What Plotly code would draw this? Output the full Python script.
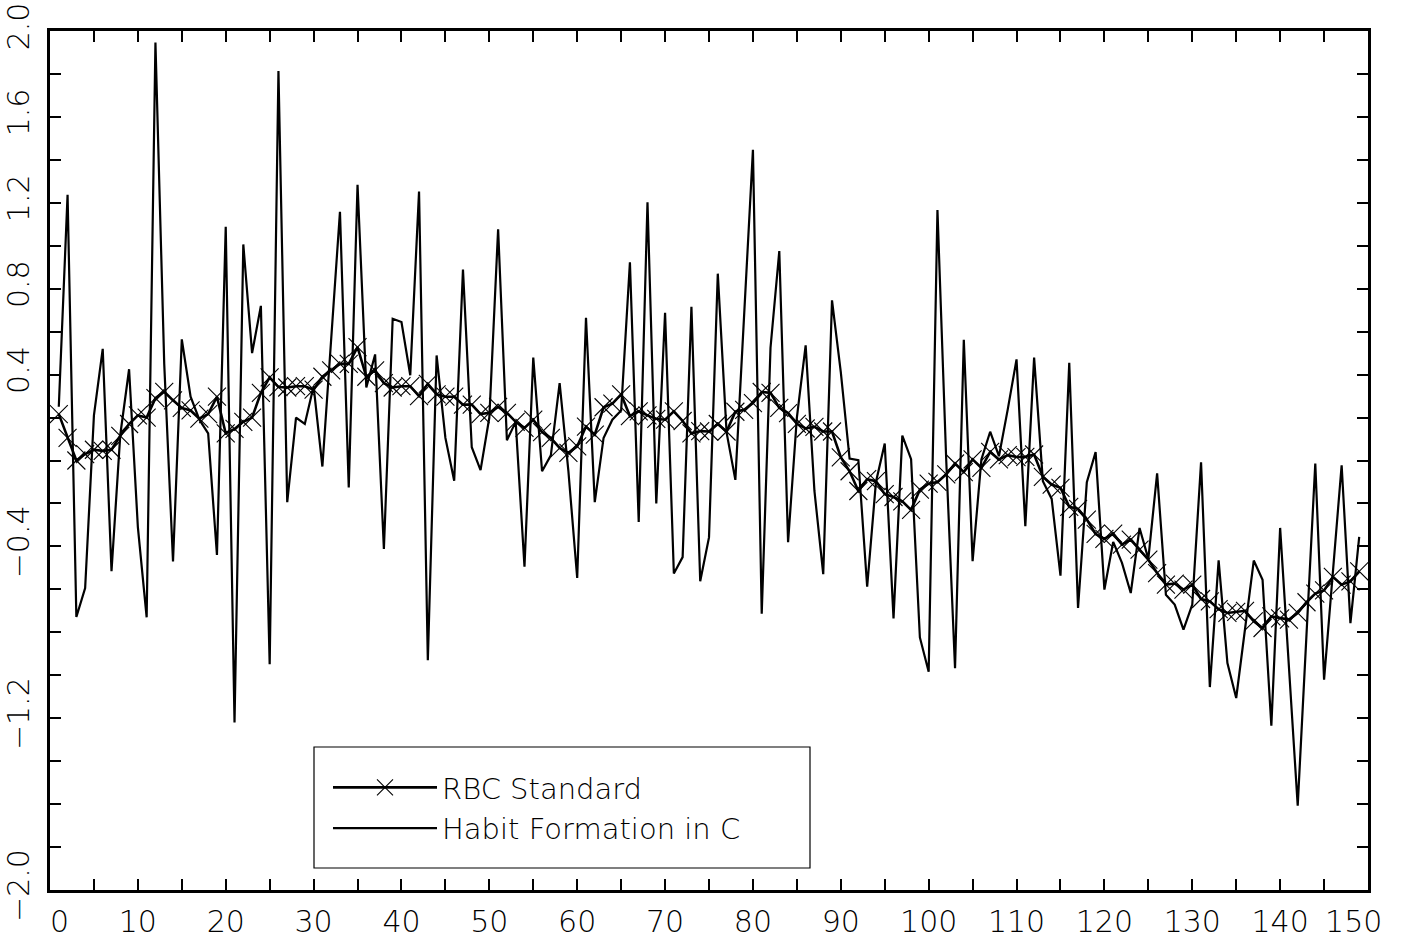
import plotly.graph_objects as go

# periods
periods = list(range(1, 150))

# RBC Standard (line with x markers)
rbc_standard = [
    0.216, 0.105, 0.000, 0.030, 0.050, 0.045, 0.050, 0.115, 0.170, 0.210,
    0.200, 0.290, 0.320, 0.280, 0.245, 0.233, 0.195, 0.216, 0.297, 0.126,
    0.147, 0.180, 0.200, 0.315, 0.387, 0.342, 0.340, 0.346, 0.346, 0.330,
    0.390, 0.420, 0.450, 0.450, 0.528, 0.390, 0.420, 0.360, 0.340, 0.346,
    0.346, 0.300, 0.357, 0.308, 0.297, 0.297, 0.260, 0.260, 0.216, 0.222,
    0.250, 0.222, 0.180, 0.152, 0.190, 0.132, 0.105, 0.058, 0.036, 0.066,
    0.158, 0.120, 0.248, 0.265, 0.308, 0.207, 0.229, 0.210, 0.194, 0.190,
    0.229, 0.184, 0.126, 0.137, 0.135, 0.170, 0.135, 0.227, 0.236, 0.267,
    0.319, 0.315, 0.245, 0.221, 0.171, 0.149, 0.157, 0.135, 0.135, 0.015,
    -0.050, -0.142, -0.087, -0.096, -0.157, -0.170, -0.190, -0.230, -0.136, -0.108,
    -0.100, -0.065, -0.014, -0.054, 0.005, -0.034, 0.040, 0.005, 0.025, 0.016,
    0.017, 0.028, -0.076, -0.112, -0.127, -0.216, -0.225, -0.275, -0.342, -0.365,
    -0.340, -0.392, -0.368, -0.415, -0.462, -0.524, -0.578, -0.573, -0.601, -0.578,
    -0.645, -0.656, -0.692, -0.710, -0.705, -0.700, -0.749, -0.780, -0.726, -0.735,
    -0.741, -0.710, -0.660, -0.620, -0.605, -0.542, -0.578, -0.563, -0.516,
]

# Habit Formation in C (plain line)
habit_formation = [
    0.250, 1.237, -0.729, -0.594, 0.210, 0.520, -0.515, 0.120, 0.425, -0.310,
    -0.730, 1.946, 0.450, -0.470, 0.564, 0.297, 0.190, 0.126, -0.440, 1.088,
    -1.220, 1.006, 0.500, 0.720, -0.949, 1.814, -0.194, 0.200, 0.170, 0.346,
    -0.028, 0.550, 1.158, -0.126, 1.284, 0.340, 0.494, -0.412, 0.660, 0.645,
    0.397, 1.252, -0.930, 0.489, 0.105, -0.094, 0.889, 0.062, -0.045, 0.200,
    1.077, 0.094, 0.180, -0.494, 0.479, -0.050, 0.024, 0.360, -0.050, -0.547,
    0.665, -0.194, 0.105, 0.190, 0.233, 0.923, -0.286, 1.203, -0.200, 0.688,
    -0.526, -0.450, 0.716, -0.562, -0.358, 0.870, 0.131, -0.090, 0.680, 1.447,
    -0.713, 0.525, 0.975, -0.380, 0.200, 0.536, -0.142, -0.529, 0.746, 0.411,
    0.009, 0.002, -0.588, -0.100, 0.079, -0.735, 0.116, 0.006, -0.824, -0.984,
    1.166, 0.000, -0.967, 0.562, -0.469, 0.005, 0.134, 0.020, 0.238, 0.471,
    -0.306, 0.479, -0.096, -0.179, -0.536, 0.455, -0.687, -0.101, 0.039, -0.601,
    -0.379, -0.477, -0.617, -0.314, -0.458, -0.060, -0.625, -0.671, -0.788, -0.671,
    -0.008, -1.055, -0.465, -0.943, -1.106, -0.786, -0.466, -0.555, -1.235, -0.314,
    -0.948, -1.607, -0.811, -0.014, -1.021, -0.530, -0.022, -0.757, -0.356,
]

# axis ticks
x_tick_vals = list(range(0, 151, 5))
x_tick_text = [str(v) if v % 10 == 0 else "" for v in x_tick_vals]
# end labels sit just inside the frame, as in the original
x_tick_text[0] = "\u00a0\u00a00"
x_tick_text[-1] = "150\u00a0\u00a0\u00a0"

y_tick_vals = [round(-2.0 + 0.2 * i, 1) for i in range(21)]
y_labelled = {2.0: "2.0", 1.6: "1.6", 1.2: "1.2", 0.8: "0.8", 0.4: "0.4",
              -0.4: "\u22120.4", -1.2: "\u22121.2", -2.0: "\u22122.0"}
y_tick_text = [y_labelled.get(v, "") for v in y_tick_vals]

FONT = dict(family="DejaVu Sans", color="black", weight=200)

fig = go.Figure()

fig.add_trace(go.Scatter(
    x=periods, y=rbc_standard, name="RBC Standard",
    mode="lines+markers",
    line=dict(color="black", width=2.6),
    marker=dict(symbol="x-thin", size=18, line=dict(color="black", width=1.1)),
))

fig.add_trace(go.Scatter(
    x=periods, y=habit_formation, name="Habit Formation in C",
    mode="lines",
    line=dict(color="black", width=2.2),
))

fig.update_layout(
    width=1416, height=941,
    margin=dict(l=50, r=48, t=31, b=51),
    paper_bgcolor="white", plot_bgcolor="white",
    font=dict(**FONT, size=30),
    showlegend=True,
    legend=dict(
        x=(328 - 50) / 1318, y=(890 - 808) / 859,
        xanchor="left", yanchor="middle",
        bgcolor="rgba(0,0,0,0)", borderwidth=0,
        font=dict(**FONT, size=29),
        itemwidth=104,
        tracegroupgap=0,
    ),
    shapes=[dict(
        type="rect", xref="paper", yref="paper",
        x0=(314 - 50) / 1318, x1=(810 - 50) / 1318,
        y0=(890 - 868) / 859, y1=(890 - 747) / 859,
        line=dict(color="black", width=1.2), fillcolor="rgba(0,0,0,0)",
    )],
)

fig.update_xaxes(
    range=[0, 150], automargin=False,
    tickmode="array", tickvals=x_tick_vals, ticktext=x_tick_text,
    ticks="inside", ticklen=11, tickwidth=1.5, tickcolor="black",
    showline=True, linewidth=3, linecolor="black", mirror="ticks",
    showgrid=False, zeroline=False,
    tickfont=dict(**FONT, size=30),
    ticklabelstandoff=3,
)

fig.update_yaxes(
    range=[-2.0, 2.0], automargin=False,
    tickmode="array", tickvals=y_tick_vals, ticktext=y_tick_text,
    ticks="inside", ticklen=11, tickwidth=1.5, tickcolor="black",
    showline=True, linewidth=3, linecolor="black", mirror="ticks",
    showgrid=False, zeroline=False,
    tickangle=-90,
    tickfont=dict(**FONT, size=30),
    ticklabelstandoff=6,
)

fig.write_html("out.html")
